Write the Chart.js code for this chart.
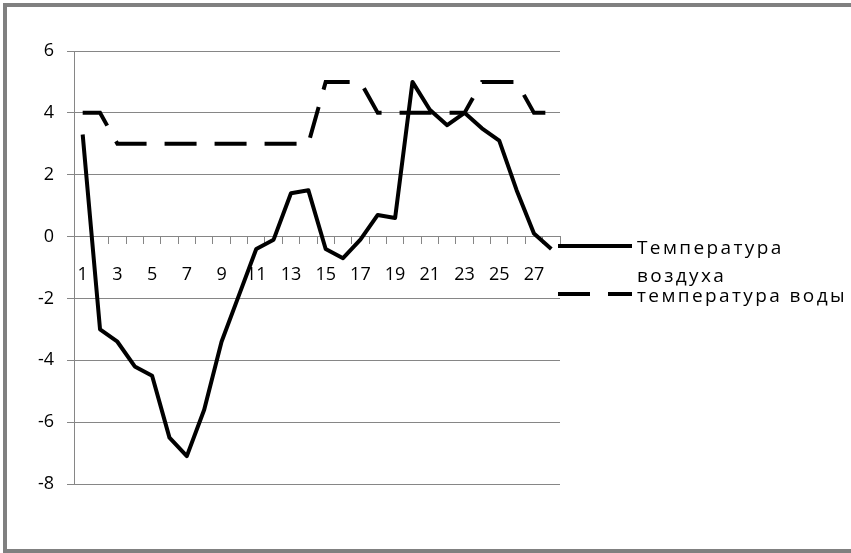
<!DOCTYPE html>
<html>
<head>
<meta charset="utf-8">
<title>Температура</title>
<script src="https://cdn.jsdelivr.net/npm/chart.js@4.4.0/dist/chart.umd.min.js"></script>
<style>
    html, body { margin: 0; padding: 0; background: #fff; overflow: hidden; }
    canvas { display: block; }
</style>
</head>
<body>
<canvas id="chart" width="851" height="553"></canvas>
<script>
const days = ['1','2','3','4','5','6','7','8','9','10','11','12','13','14',
              '15','16','17','18','19','20','21','22','23','24','25','26','27','28'];
const airTemp = [3.3, -3, -3.4, -4.2, -4.5, -6.5, -7.1, -5.6, -3.4, -1.9, -0.4, -0.1, 1.4, 1.5,
                 -0.4, -0.7, -0.1, 0.7, 0.6, 5, 4.1, 3.6, 4, 3.5, 3.1, 1.5, 0.1, -0.4];
const waterTemp = [4, 4, 3, 3, 3, 3, 3, 3, 3, 3, 3, 3, 3, 3,
                   5, 5, 5, 4, 4, 4, 4, 4, 4, 5, 5, 5, 4, 4];
const seriesNames = ['Температура воздуха', 'температура воды'];
const yTicks = [-8, -6, -4, -2, 0, 2, 4, 6];

const gridGray = '#868686';

// gray frame round the picture (its right side falls outside the canvas)
const frame = {
    id: 'frame',
    beforeDraw(chart)
    {
        let ctx = chart.ctx;
        ctx.save();
        ctx.fillStyle = '#fff';
        ctx.fillRect(0, 0, chart.width, chart.height);
        ctx.fillStyle = '#808080';
        ctx.fillRect(3, 3, chart.width - 3, 4);
        ctx.fillRect(3, 3, 4, chart.height - 3);
        ctx.fillRect(3, chart.height - 4, chart.width - 3, 4);
        ctx.restore();
    }
};

// legend drawn on the right, with the first name wrapped on two lines
const sideLegend = {
    id: 'sideLegend',
    afterDraw(chart)
    {
        let ctx = chart.ctx;
        ctx.save();
        ctx.font = '19px "Open Sans"';
        ctx.letterSpacing = '2.4px';
        ctx.fillStyle = '#000';
        ctx.textBaseline = 'middle';
        let rows = [249, 297];
        chart.data.datasets.forEach(function(ds, i) {
            let y = rows[i];
            ctx.strokeStyle = ds.borderColor;
            ctx.lineWidth = 4;
            ctx.setLineDash(ds.borderDash || []);
            ctx.beginPath();
            ctx.moveTo(558, y - 3);
            ctx.lineTo(632, y - 3);
            ctx.stroke();
            wrapText(ctx, ds.label, 225).forEach(function(line, k) {
                ctx.fillText(line, 637, y + k * 28);
            });
        });
        ctx.restore();
    }
};

function wrapText(ctx, text, maxWidth)
{
    if (ctx.measureText(text).width <= maxWidth) return [text];
    let words = text.split(' ');
    let lines = [];
    let cur = '';
    words.forEach(function(w) {
        let test = cur ? cur + ' ' + w : w;
        if (cur && ctx.measureText(test).width > maxWidth) {
            lines.push(cur);
            cur = w;
        } else {
            cur = test;
        }
    });
    if (cur) lines.push(cur);
    return lines;
}

Chart.defaults.font.family = '"Open Sans"';
Chart.defaults.font.size = 18;
Chart.defaults.color = '#000';

new Chart(document.getElementById('chart').getContext('2d'), {
    type: 'line',
    data: {
        labels: days,
        datasets: [
            {
                label: seriesNames[0],
                data: airTemp,
                borderColor: '#000',
                borderWidth: 4,
                borderJoinStyle: 'round',
                pointRadius: 0,
                tension: 0
            },
            {
                label: seriesNames[1],
                data: waterTemp,
                borderColor: '#000',
                borderWidth: 4,
                borderDash: [32, 18],
                borderCapStyle: 'butt',
                pointRadius: 0,
                tension: 0
            }
        ]
    },
    options: {
        responsive: false,
        animation: false,
        layout: { padding: { left: 0, top: 51, right: 291, bottom: 69 } },
        plugins: {
            legend: { display: false },
            tooltip: { enabled: false }
        },
        scales: {
            x: {
                type: 'category',
                position: { y: 0 },
                offset: true,
                grid: {
                    offset: true,
                    drawOnChartArea: false,
                    drawTicks: true,
                    tickLength: 7,
                    color: gridGray
                },
                border: { display: true, color: gridGray, width: 1 },
                ticks: {
                    autoSkip: false,
                    maxRotation: 0,
                    padding: 21,
                    callback: function(value, index) {
                        return index % 2 === 0 ? days[index] : '';
                    }
                }
            },
            y: {
                min: yTicks[0],
                max: yTicks[yTicks.length - 1],
                afterFit: function(scale) { scale.width = 74; },
                afterBuildTicks: function(scale) {
                    scale.ticks = yTicks.map(function(v) { return { value: v }; });
                },
                grid: {
                    color: gridGray,
                    drawTicks: true,
                    tickLength: 7
                },
                border: { display: true, color: gridGray, width: 1 },
                ticks: { padding: 13 }
            }
        }
    },
    plugins: [frame, sideLegend]
});
</script>
</body>
</html>
